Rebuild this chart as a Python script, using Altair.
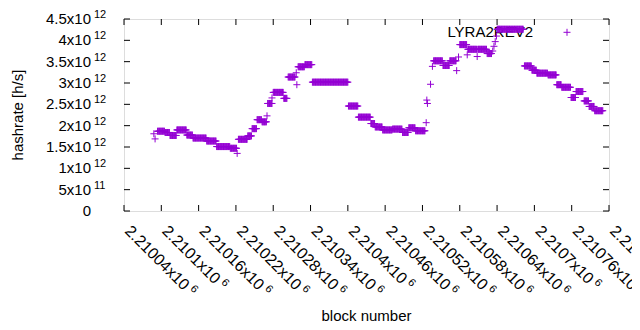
import altair as alt
import pandas as pd

# ---- data ----
# plateaus: start block, end block, hashrate (x10^12 h/s)
seg_start = [2210094, 2210106, 2210114, 2210125, 2210141, 2210151, 2210173, 2210189, 2210211,
             2210224, 2210239, 2210246, 2210254, 2210262, 2210271, 2210280, 2210297, 2210304,
             2210320, 2210331, 2210343, 2210401, 2210417, 2210437, 2210444, 2210456, 2210472,
             2210488, 2210498, 2210509, 2210538, 2210553, 2210564, 2210580, 2210593, 2210609,
             2210624, 2210640, 2210684, 2210696, 2210704, 2210722, 2210736, 2210744, 2210759,
             2210767, 2210780, 2210788, 2210797]
seg_end = [2210105, 2210113, 2210124, 2210140, 2210150, 2210172, 2210188, 2210210, 2210221,
           2210238, 2210245, 2210253, 2210261, 2210269, 2210278, 2210296, 2210302, 2210315,
           2210330, 2210342, 2210400, 2210416, 2210436, 2210443, 2210455, 2210471, 2210487,
           2210497, 2210508, 2210524, 2210552, 2210563, 2210574, 2210591, 2210607, 2210623,
           2210631, 2210682, 2210695, 2210703, 2210721, 2210735, 2210743, 2210758, 2210766,
           2210778, 2210787, 2210796, 2210810]
seg_value = [1.87, 1.84, 1.77, 1.90, 1.78, 1.71, 1.64, 1.51, 1.47,
             1.68, 1.76, 1.93, 2.14, 2.09, 2.52, 2.78, 2.64, 3.14,
             3.38, 3.43, 3.02, 2.46, 2.20, 2.05, 1.97, 1.90, 1.92,
             1.84, 1.95, 1.88, 3.52, 3.41, 3.52, 3.90, 3.79, 3.79,
             3.69, 4.26, 3.40, 3.30, 3.23, 3.19, 2.96, 2.90, 2.66,
             2.80, 2.58, 2.45, 2.35]
# single scattered points
pt_block = [2210088, 2210090, 2210222, 2210270, 2210278, 2210317, 2210318, 2210526,
            2210527, 2210528, 2210533, 2210536, 2210575, 2210578, 2210592, 2210608,
            2210633, 2210635, 2210637, 2210639]
pt_value = [1.81, 1.69, 1.35, 2.23, 2.65, 3.24, 2.96, 2.07,
            2.60, 2.52, 2.97, 3.39, 3.29, 3.61, 3.66, 3.62,
            3.75, 3.86, 3.97, 4.10]

x_ticks = [2210040, 2210100, 2210160, 2210220, 2210280, 2210340, 2210400,
           2210460, 2210520, 2210580, 2210640, 2210700, 2210760, 2210820]
x_tick_labels = ["2.21004", "2.2101", "2.21016", "2.21022", "2.21028", "2.21034", "2.2104",
                 "2.21046", "2.21052", "2.21058", "2.21064", "2.2107", "2.21076", "2.21082"]
y_ticks = [0, 0.5e12, 1e12, 1.5e12, 2e12, 2.5e12, 3e12, 3.5e12, 4e12, 4.5e12]
y_tick_mant = ["0", "5x10", "1x10", "1.5x10", "2x10", "2.5x10", "3x10", "3.5x10", "4x10", "4.5x10"]
y_tick_exp = ["", "11", "12", "12", "12", "12", "12", "12", "12", "12"]

# ---- tables ----
rows = []
for s, e, v in zip(seg_start, seg_end, seg_value):
    for b in range(s, e + 1):
        rows.append({"block": b, "hashrate": v * 1e12})
for b, v in zip(pt_block, pt_value):
    rows.append({"block": b, "hashrate": v * 1e12})
pts = pd.DataFrame(rows)

xt = pd.DataFrame({"tick": x_ticks, "label": [l + "x10" for l in x_tick_labels],
                   "mlen": [len(l) for l in x_tick_labels], "exp": ["6"] * len(x_ticks)})
yt = pd.DataFrame({"tick": y_ticks, "mant": y_tick_mant, "exp": y_tick_exp})

W, H = 485, 192
FONT = "Liberation Sans"
PURPLE = "#9400D3"
PLUS = "M-1,0L1,0M0,-1L0,1"

xs = alt.Scale(domain=[2210040, 2210820], nice=False, zero=False)
ys = alt.Scale(domain=[0, 4.5e12], nice=False, zero=False)

def X(f):
    return alt.X(f, type="quantitative", scale=xs, axis=None)

def Y(f):
    return alt.Y(f, type="quantitative", scale=ys, axis=None)

# tick marks (inward, mirrored)
tb = alt.Chart(xt).mark_rule(color="black", strokeWidth=1).encode(x=X("tick"), y=alt.value(H), y2=alt.value(H - 6))
tt = alt.Chart(xt).mark_rule(color="black", strokeWidth=1).encode(x=X("tick"), y=alt.value(0), y2=alt.value(6))
tl = alt.Chart(yt).mark_rule(color="black", strokeWidth=1).encode(y=Y("tick"), x=alt.value(0), x2=alt.value(6))
tr = alt.Chart(yt).mark_rule(color="black", strokeWidth=1).encode(y=Y("tick"), x=alt.value(W), x2=alt.value(W - 6))

# y tick labels with exponent
ylab = alt.Chart(yt).mark_text(font=FONT, fontSize=15, align="right", baseline="alphabetic", dy=5, color="black").encode(
    y=Y("tick"), x=alt.value(-33), text="mant:N")
yexp = alt.Chart(yt).mark_text(font=FONT, fontSize=11, align="left", baseline="alphabetic", dy=-1, color="black").encode(
    y=Y("tick"), x=alt.value(-30), text="exp:N")

# x tick labels, rotated
LY = H + 21
xlab = alt.Chart(xt).mark_text(font=FONT, fontSize=16, align="left", baseline="alphabetic", angle=45, color="black").encode(
    x=X("tick"), y=alt.value(LY), text="label:N")
xexp7 = alt.Chart(xt).transform_filter("datum.mlen == 7").mark_text(
    font=FONT, fontSize=11, align="left", baseline="alphabetic", angle=45, dx=87, dy=-6, color="black").encode(
    x=X("tick"), y=alt.value(LY), text="exp:N")
xexp6 = alt.Chart(xt).transform_filter("datum.mlen == 6").mark_text(
    font=FONT, fontSize=11, align="left", baseline="alphabetic", angle=45, dx=78, dy=-6, color="black").encode(
    x=X("tick"), y=alt.value(LY), text="exp:N")

# axis titles
ytitle = alt.Chart(pd.DataFrame({"t": ["hashrate [h/s]"]})).mark_text(
    font=FONT, fontSize=15, angle=270, align="center", baseline="alphabetic", color="black").encode(
    x=alt.value(-101), y=alt.value(H / 2), text="t:N")
xtitle = alt.Chart(pd.DataFrame({"t": ["block number"]})).mark_text(
    font=FONT, fontSize=15, align="center", baseline="alphabetic", color="black").encode(
    x=alt.value(W / 2), y=alt.value(H + 110), text="t:N")

# legend
leg_txt = alt.Chart(pd.DataFrame({"t": ["LYRA2REV2"]})).mark_text(
    font=FONT, fontSize=15, align="right", baseline="alphabetic", color="black").encode(
    x=alt.value(409), y=alt.value(17.7), text="t:N")
leg_pt = alt.Chart(pd.DataFrame({"t": ["LYRA2REV2"]})).mark_point(
    shape=PLUS, size=49, filled=False, color=PURPLE, strokeWidth=1, opacity=1).encode(
    x=alt.value(443), y=alt.value(13.3))

points = alt.Chart(pts).mark_point(shape=PLUS, size=49, filled=False, color=PURPLE, strokeWidth=1, opacity=1).encode(
    x=X("block"), y=Y("hashrate"))

chart = alt.layer(tb, tt, tl, tr, ylab, yexp, xlab, xexp7, xexp6, ytitle, xtitle, leg_txt, points, leg_pt).properties(
    width=W, height=H,
    padding={"left": 116, "top": 11, "right": 23, "bottom": 111},
    autosize=alt.AutoSizeParams(type="none"),
).configure_view(stroke="black", strokeWidth=1).configure(background="white")

chart.save("out.html", embed_options={"renderer": "svg", "actions": False})
